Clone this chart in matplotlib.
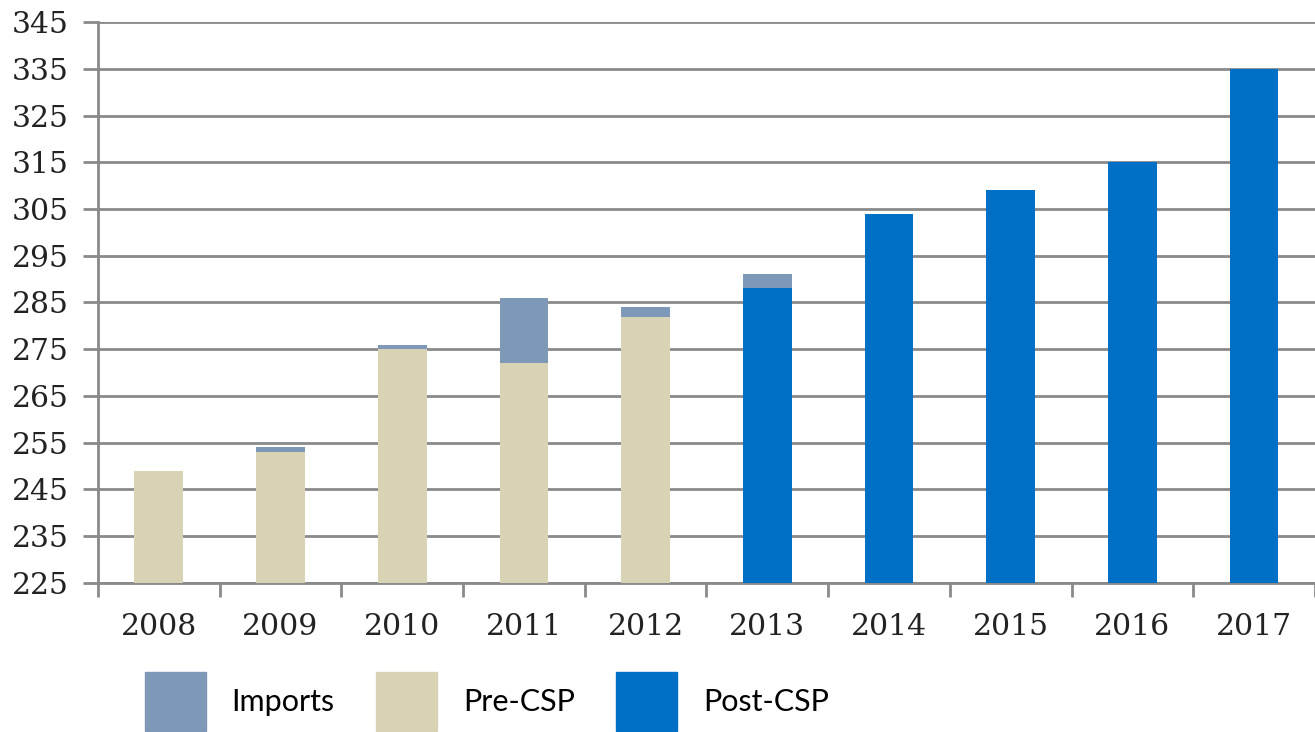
import matplotlib.pyplot as plt
import numpy as np
from matplotlib.patches import Patch

years = ['2008', '2009', '2010', '2011', '2012', '2013', '2014', '2015', '2016', '2017']
pre_csp = [249, 253, 275, 272, 282, 0, 0, 0, 0, 0]
post_csp = [0, 0, 0, 0, 0, 288, 304, 309, 315, 335]
imports = [0, 1, 1, 14, 2, 3, 0, 0, 0, 0]

c_imports = '#7e99b8'
c_pre = '#d8d3b4'
c_post = '#0070c6'
c_grid = '#8a8a8a'

fig = plt.figure(figsize=(13.15, 7.32), dpi=100)
ax = fig.add_axes([0.0745, 0.204, 0.9255, 0.7655])

x = np.arange(len(years))
base = np.array(pre_csp) + np.array(post_csp)

ax.bar(x, pre_csp, width=0.4, color=c_pre, zorder=3)
ax.bar(x, post_csp, width=0.4, color=c_post, zorder=3)
ax.bar(x, imports, width=0.4, bottom=base, color=c_imports, zorder=3)

ax.set_ylim(225, 345)
ax.set_xlim(-0.5, len(years) - 0.5)
ax.set_yticks(np.arange(225, 346, 10))
ax.yaxis.grid(True, color=c_grid, linewidth=2, zorder=0)

# category boundaries get the tick marks, labels sit at the centres
ax.set_xticks(np.arange(-0.5, len(years), 1))
ax.set_xticklabels([])
ax.set_xticks(x, minor=True)
ax.set_xticklabels(years, minor=True)
ax.tick_params(axis='x', which='major', length=10, width=2, color=c_grid, direction='out')
ax.tick_params(axis='x', which='minor', length=0, pad=22)
ax.tick_params(axis='y', length=11, width=2, color=c_grid, pad=10)

for lab in ax.get_xticklabels(minor=True) + ax.get_yticklabels():
    lab.set_fontfamily('DejaVu Serif')
    lab.set_fontsize(21.5)
    lab.set_color('#222222')

for s in ['top', 'right']:
    ax.spines[s].set_visible(False)
for s in ['left', 'bottom']:
    ax.spines[s].set_color(c_grid)
    ax.spines[s].set_linewidth(2)

handles = [Patch(color=c_imports, label='Imports'),
           Patch(color=c_pre, label='Pre-CSP'),
           Patch(color=c_post, label='Post-CSP')]
fig.legend(handles=handles, loc='upper left', bbox_to_anchor=(0.110, 0.082),
           ncol=3, frameon=False, prop={'family': 'Lato', 'size': 22},
           handlelength=2.0, handleheight=2.6, handletextpad=0.85,
           columnspacing=1.35, borderpad=0, borderaxespad=0)

plt.savefig('out.png', dpi=100)
